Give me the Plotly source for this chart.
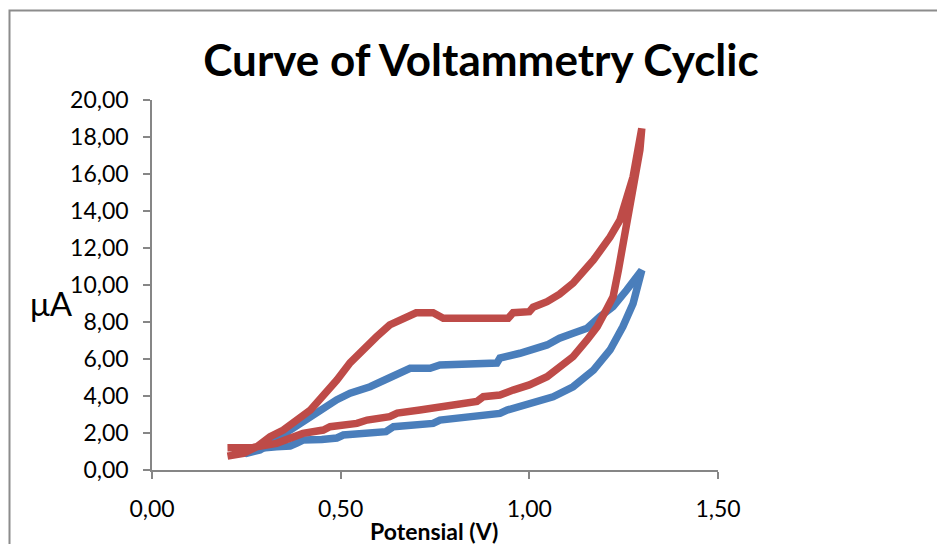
import plotly.graph_objects as go

# Blue cycle (lower loop): forward branch then reverse branch
blue_fwd_v = [0.24, 0.268, 0.30, 0.33, 0.366, 0.384, 0.40, 0.45, 0.49, 0.507, 0.60, 0.62, 0.64,
              0.71, 0.745, 0.763, 0.861, 0.922, 0.941, 1.01, 1.063, 1.116, 1.17, 1.214, 1.248,
              1.275, 1.293, 1.298]
blue_fwd_i = [0.95, 1.08, 1.20, 1.26, 1.30, 1.46, 1.62, 1.65, 1.73, 1.89, 2.05, 2.07, 2.34,
              2.43, 2.52, 2.70, 2.88, 3.06, 3.24, 3.60, 3.96, 4.50, 5.40, 6.49, 7.75,
              9.00, 10.45, 10.80]
blue_rev_v = [1.298, 1.258, 1.222, 1.187, 1.153, 1.116, 1.08, 1.047, 1.01, 0.975, 0.922, 0.914,
              0.763, 0.737, 0.684, 0.665, 0.631, 0.578, 0.525, 0.49, 0.445, 0.40, 0.366, 0.33,
              0.286, 0.25, 0.24]
blue_rev_i = [10.80, 9.73, 8.83, 8.29, 7.66, 7.39, 7.12, 6.76, 6.49, 6.31, 6.05, 5.78,
              5.68, 5.50, 5.50, 5.30, 5.00, 4.50, 4.15, 3.80, 3.24, 2.70, 2.16, 1.62,
              1.08, 0.90, 0.95]

# Red cycle (upper loop)
red_fwd_v = [0.20, 0.268, 0.33, 0.366, 0.40, 0.454, 0.472, 0.543, 0.57, 0.63, 0.65, 0.71, 0.763,
             0.808, 0.861, 0.878, 0.922, 0.957, 1.0, 1.047, 1.08, 1.116, 1.153, 1.18, 1.205,
             1.222, 1.236, 1.258, 1.275, 1.293, 1.298]
red_fwd_i = [1.20, 1.22, 1.44, 1.71, 1.98, 2.16, 2.34, 2.52, 2.70, 2.88, 3.08, 3.24, 3.42,
             3.60, 3.70, 3.96, 4.05, 4.32, 4.60, 5.04, 5.58, 6.13, 7.03, 7.75, 8.70,
             9.37, 10.80, 13.15, 14.97, 17.30, 18.47]
red_rev_v = [1.298, 1.275, 1.24, 1.214, 1.17, 1.116, 1.08, 1.047, 1.01, 1.0, 0.957, 0.944,
             0.772, 0.745, 0.70, 0.665, 0.63, 0.595, 0.56, 0.525, 0.49, 0.454, 0.42, 0.384,
             0.348, 0.313, 0.278, 0.242, 0.207, 0.20]
red_rev_i = [18.47, 15.85, 13.50, 12.60, 11.35, 10.10, 9.50, 9.10, 8.80, 8.56, 8.50, 8.20,
             8.20, 8.50, 8.50, 8.20, 7.84, 7.20, 6.50, 5.80, 4.86, 3.96, 3.24, 2.70,
             2.16, 1.80, 1.26, 0.90, 0.72, 0.75]

x_ticks = [0.0, 0.5, 1.0, 1.5]
y_ticks = [0, 2, 4, 6, 8, 10, 12, 14, 16, 18, 20]

title_text = "Curve of Voltammetry Cyclic"
x_title = "Potensial (V)"
y_title = "μA"

BLUE = "#4A7EBB"
RED = "#BE4B48"
AXIS = "#868686"
FONT = "Lato"

fig = go.Figure()
fig.add_trace(go.Scatter(x=blue_fwd_v + blue_rev_v, y=blue_fwd_i + blue_rev_i, mode="lines",
                         line=dict(color=BLUE, width=7.5), showlegend=False))
fig.add_trace(go.Scatter(x=red_fwd_v + red_rev_v, y=red_fwd_i + red_rev_i, mode="lines",
                         line=dict(color=RED, width=7.5), showlegend=False))

L, R, T, B = 152, 937 - 718, 100, 544 - 470
W, H = 937, 544
pw, ph = W - L - R, H - T - B

def px_to_paper_x(px):
    return (px - L) / pw

def px_to_paper_y(py):
    return (H - B - py) / ph

tick_font = dict(size=23, family=FONT, color="black")

fig.update_layout(
    width=W, height=H,
    margin=dict(l=L, r=R, t=T, b=B),
    paper_bgcolor="white", plot_bgcolor="white",
    separators=",.",
    font=dict(family=FONT, color="black"),
    title=dict(text="<b>" + title_text + "</b>", x=481 / W, xanchor="center",
               y=1 - 61 / H, yanchor="middle", yref="container",
               font=dict(size=44, family=FONT, color="black")),
    xaxis=dict(range=[0, 1.5], tickvals=x_ticks, tickformat=".2f", showgrid=False,
               zeroline=False, showline=True, linecolor=AXIS, linewidth=1.5,
               ticks="outside", ticklen=7, tickcolor=AXIS, tickwidth=1.5,
               ticklabelstandoff=11, tickfont=tick_font, fixedrange=True),
    yaxis=dict(range=[0, 20], tickvals=y_ticks, tickformat=".2f", showgrid=False,
               zeroline=False, showline=True, linecolor=AXIS, linewidth=1.5,
               ticks="outside", ticklen=7, tickcolor=AXIS, tickwidth=1.5,
               ticklabelstandoff=10, tickfont=tick_font, fixedrange=True),
    annotations=[
        dict(text="<b>" + x_title + "</b>", xref="paper", yref="paper",
             x=px_to_paper_x(434), y=px_to_paper_y(531), xanchor="center", yanchor="middle",
             showarrow=False, font=dict(size=23, family=FONT, color="black")),
        dict(text=y_title, xref="paper", yref="paper",
             x=px_to_paper_x(51), y=px_to_paper_y(303), xanchor="center", yanchor="middle",
             showarrow=False, font=dict(size=33, family=FONT, color="black")),
    ],
    shapes=[
        dict(type="rect", xref="paper", yref="paper",
             x0=px_to_paper_x(9.5), x1=px_to_paper_x(1000),
             y0=px_to_paper_y(600), y1=px_to_paper_y(10.5),
             line=dict(color="#8C8C8C", width=2), layer="below"),
    ],
)

fig.write_html("out.html")
